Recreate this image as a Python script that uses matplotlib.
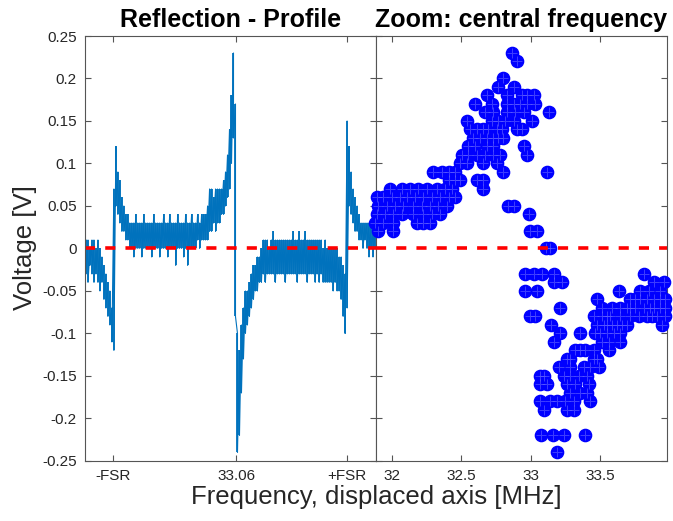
import numpy as np
import matplotlib
matplotlib.use("Agg")
import matplotlib.pyplot as plt

plt.rcParams['font.family'] = ['Liberation Sans', 'DejaVu Sans']

# reflection profile, band of the noisy trace per sample column (V)
trace_hi = [0.01, 0.01, 0.00, 0.01, 0.01, 0.00, 0.01, 0.00, -0.01, -0.02,
            -0.03, -0.04, -0.05, -0.07, 0.07, 0.12, 0.09, 0.08, 0.06, 0.05,
            0.04, 0.04, 0.03,
            0.03, 0.03, 0.04, 0.03, 0.03, 0.03, 0.04, 0.03, 0.03, 0.03,
            0.03, 0.04, 0.03, 0.03, 0.03, 0.03, 0.04, 0.03, 0.03, 0.04,
            0.03, 0.03, 0.03, 0.04, 0.03, 0.03, 0.03, 0.04, 0.03, 0.03,
            0.04, 0.03, 0.03, 0.04, 0.03, 0.04, 0.04, 0.04,
            0.05, 0.07, 0.07, 0.06, 0.07, 0.07, 0.07, 0.07, 0.08, 0.09,
            0.11, 0.14, 0.18, 0.23, 0.17, -0.10, -0.12, -0.09, -0.07, -0.05,
            -0.05, -0.04, -0.03, -0.02, -0.02, -0.01, -0.01,
            0.00, 0.01, 0.01, 0.01, 0.00, 0.01, 0.02, 0.01, 0.01, 0.01,
            0.01, 0.01, 0.01, 0.01, 0.01, 0.01, 0.02, 0.01, 0.01, 0.02,
            0.01, 0.01, 0.02, 0.01, 0.01, 0.01, 0.01, 0.01, 0.01, 0.01,
            0.01, 0.00, 0.01, 0.00, 0.00,
            0.00, 0.00, 0.00, 0.00, -0.01, -0.01, -0.02, -0.03, 0.15, 0.12,
            0.09, 0.07, 0.06, 0.05, 0.04, 0.03, 0.03, 0.03, 0.03, 0.03,
            0.03, 0.02, 0.03]
trace_lo = [-0.03, -0.04, -0.02, -0.03, -0.04, -0.03, -0.04, -0.05, -0.04, -0.06,
            -0.07, -0.08, -0.09, -0.11, -0.12, 0.05, 0.04, 0.03, 0.02, 0.02,
            0.01, 0.01, 0.00,
            0.00, -0.01, 0.00, 0.00, 0.00, -0.01, 0.00, 0.00, 0.00, 0.00,
            -0.01, 0.00, 0.00, 0.00, -0.01, 0.00, 0.00, 0.00, -0.01, 0.00,
            0.00, 0.00, -0.02, 0.00, 0.00, 0.00, -0.01, 0.00, -0.02, 0.00,
            0.00, 0.00, 0.00, 0.01, 0.00, 0.01, 0.01, 0.01,
            0.01, 0.02, 0.02, 0.03, 0.02, 0.03, 0.03, 0.04, 0.04, 0.05,
            0.06, 0.07, 0.10, 0.13, -0.08, -0.24, -0.22, -0.17, -0.13, -0.10,
            -0.09, -0.08, -0.07, -0.06, -0.05, -0.05, -0.04,
            -0.04, -0.03, -0.04, -0.03, -0.03, -0.03, -0.03, -0.04, -0.03, -0.03,
            -0.03, -0.03, -0.04, -0.03, -0.03, -0.03, -0.03, -0.03, -0.04, -0.03,
            -0.03, -0.03, -0.03, -0.04, -0.03, -0.03, -0.03, -0.04, -0.03, -0.04,
            -0.03, -0.04, -0.04, -0.04, -0.04,
            -0.04, -0.05, -0.04, -0.05, -0.05, -0.06, -0.08, -0.10, -0.07, 0.05,
            0.04, 0.03, 0.02, 0.02, 0.01, 0.01, 0.00, 0.01, 0.00, -0.01,
            0.00, -0.01, 0.00]

# sample columns of the three resonances
profile_ticks = [13.65, 75.35, 130.85]
profile_labels = ['-FSR', '33.06', '+FSR']

# zoom around the central resonance: frequency (MHz), voltage (V)
zoom_freq = [32.863,
             32.899,
             32.803,
             32.767, 32.875,
             32.683, 32.827, 32.935, 32.971, 33.019,
             32.599, 32.719, 32.827, 32.875, 32.923, 32.971, 33.031,
             32.671, 32.731, 32.827, 32.887, 32.947, 33.127,
             32.539, 32.719, 32.767, 32.815, 32.875, 33.007,
             32.563, 32.611, 32.659, 32.695, 32.755, 32.791, 32.899, 32.935,
             32.587, 32.635, 32.683, 32.731, 32.767, 32.803,
             32.551, 32.599, 32.683, 32.731, 32.947,
             32.503, 32.551, 32.611, 32.671, 32.731, 32.779, 32.971,
             32.491, 32.539, 32.659, 32.755,
             32.300, 32.360, 32.408, 32.456, 32.803, 33.115,
             32.408, 32.456, 32.491, 32.611, 32.659,
             31.988, 32.072, 32.132, 32.192, 32.252, 32.324, 32.384, 32.432, 32.659,
             31.892, 31.940, 32.000, 32.060, 32.108, 32.168, 32.228, 32.288, 32.348,
             32.408, 32.456,
             31.904, 31.964, 32.024, 32.084, 32.156, 32.216, 32.276, 32.336, 32.396,
             32.839, 32.875,
             31.892, 31.952, 32.012, 32.072, 32.156, 32.228, 32.288, 32.348, 32.983,
             31.880, 31.940, 32.012, 32.180, 32.228, 32.276,
             31.904, 32.012, 32.995, 33.043,
             33.109, 33.139,
             32.959, 33.019, 33.079, 33.163, 33.810,
             33.163, 33.223, 33.882, 33.954,
             32.959, 33.043, 33.630, 33.786, 33.846, 33.930,
             33.475, 33.714, 33.750, 33.786, 33.834, 33.882, 33.930, 33.966,
             33.211, 33.510, 33.580, 33.640, 33.690, 33.714, 33.750, 33.810, 33.858,
             33.882, 33.930, 33.966,
             32.995, 33.031, 33.451, 33.510, 33.547, 33.570, 33.640, 33.714, 33.774,
             33.834, 33.870, 33.906, 33.966,
             33.144, 33.475, 33.523, 33.550, 33.580, 33.620, 33.654, 33.690, 33.943,
             33.206, 33.350, 33.463, 33.500, 33.547, 33.600, 33.643,
             33.163, 33.510, 33.558, 33.642,
             33.319, 33.355, 33.390, 33.451, 33.559,
             33.259, 33.280, 33.451, 33.475,
             33.199, 33.283, 33.379, 33.427, 33.487,
             33.067, 33.091, 33.235, 33.283, 33.343, 33.403,
             33.067, 33.115, 33.259, 33.319, 33.415,
             33.283, 33.355, 33.403,
             33.067, 33.139, 33.187, 33.247, 33.307, 33.427,
             33.091, 33.259, 33.307,
             33.074, 33.156, 33.235, 33.386,
             33.187]
zoom_volt = [0.23,
             0.22,
             0.20,
             0.19, 0.19,
             0.18, 0.18, 0.18, 0.18, 0.18,
             0.17, 0.17, 0.17, 0.17, 0.17, 0.17, 0.17,
             0.16, 0.16, 0.16, 0.16, 0.16, 0.16,
             0.15, 0.15, 0.15, 0.15, 0.15, 0.15,
             0.14, 0.14, 0.14, 0.14, 0.14, 0.14, 0.14, 0.14,
             0.13, 0.13, 0.13, 0.13, 0.13, 0.13,
             0.12, 0.12, 0.12, 0.12, 0.12,
             0.11, 0.11, 0.11, 0.11, 0.11, 0.11, 0.11,
             0.10, 0.10, 0.10, 0.10,
             0.09, 0.09, 0.09, 0.09, 0.09, 0.09,
             0.08, 0.08, 0.08, 0.08, 0.08,
             0.07, 0.07, 0.07, 0.07, 0.07, 0.07, 0.07, 0.07, 0.07,
             0.06, 0.06, 0.06, 0.06, 0.06, 0.06, 0.06, 0.06, 0.06,
             0.06, 0.06,
             0.05, 0.05, 0.05, 0.05, 0.05, 0.05, 0.05, 0.05, 0.05,
             0.05, 0.05,
             0.04, 0.04, 0.04, 0.04, 0.04, 0.04, 0.04, 0.04, 0.04,
             0.03, 0.03, 0.03, 0.03, 0.03, 0.03,
             0.02, 0.02, 0.02, 0.02,
             0.00, 0.00,
             -0.03, -0.03, -0.03, -0.03, -0.03,
             -0.04, -0.04, -0.04, -0.04,
             -0.05, -0.05, -0.05, -0.05, -0.05, -0.05,
             -0.06, -0.06, -0.06, -0.06, -0.06, -0.06, -0.06, -0.06,
             -0.07, -0.07, -0.07, -0.07, -0.07, -0.07, -0.07, -0.07, -0.07,
             -0.07, -0.07, -0.07,
             -0.08, -0.08, -0.08, -0.08, -0.08, -0.08, -0.08, -0.08, -0.08,
             -0.08, -0.08, -0.08, -0.08,
             -0.09, -0.09, -0.09, -0.09, -0.09, -0.09, -0.09, -0.09, -0.09,
             -0.10, -0.10, -0.10, -0.10, -0.10, -0.10, -0.10,
             -0.11, -0.11, -0.11, -0.11,
             -0.12, -0.12, -0.12, -0.12, -0.12,
             -0.13, -0.13, -0.13, -0.13,
             -0.14, -0.14, -0.14, -0.14, -0.14,
             -0.15, -0.15, -0.15, -0.15, -0.15, -0.15,
             -0.16, -0.16, -0.16, -0.16, -0.16,
             -0.17, -0.17, -0.17,
             -0.18, -0.18, -0.18, -0.18, -0.18, -0.18,
             -0.19, -0.19, -0.19,
             -0.22, -0.22, -0.22, -0.22,
             -0.24]
zoom_ticks = [32, 32.5, 33, 33.5]

axis_col = '#555555'
text_col = '#262626'
trace_col = '#0072BD'

fig = plt.figure(figsize=(6.73, 5.21), dpi=100)
ax1 = fig.add_axes([0.1263, 0.1152, 0.4324, 0.8157])
ax2 = fig.add_axes([0.5587, 0.1152, 0.4324, 0.8157])

# left: full profile, one vertical stroke per sample column plus a zigzag
idx = np.arange(len(trace_hi))
ax1.vlines(idx, trace_lo, trace_hi, color=trace_col, lw=1.3)
xs = np.repeat(idx, 2)
ys = np.column_stack([trace_hi, trace_lo]).ravel()
ax1.plot(xs, ys, color=trace_col, lw=0.8)
ax1.axhline(0, color='red', lw=2.6, dashes=(2.8, 2.8))
ax1.set_xlim(-0.5, len(trace_hi) - 0.5)
ax1.set_xticks(profile_ticks)
ax1.set_xticklabels(profile_labels)
ax1.set_title('Reflection - Profile', fontsize=18, fontweight='bold', pad=6.5)

# right: zoomed scatter
ax2.plot(zoom_freq, zoom_volt, 'o', ms=8.8, mfc='#0000FF', mec='#0000FF',
         clip_on=False, zorder=3)
ax2.plot(zoom_freq, zoom_volt, '+', ms=7, mew=0.7, color='#6666ff',
         alpha=0.6, clip_on=False, zorder=4)
ax2.axhline(0, color='red', lw=2.6, dashes=(2.8, 2.8), zorder=5)
ax2.set_xlim(31.887, 33.978)
ax2.set_xticks(zoom_ticks)
ax2.set_xticklabels(['32', '32.5', '33', '33.5'])
ax2.set_title('Zoom: central frequency', fontsize=18, fontweight='bold', pad=6.5)

for ax in (ax1, ax2):
    ax.set_ylim(-0.25, 0.25)
    ax.set_yticks(np.arange(-0.25, 0.26, 0.05))
    ax.tick_params(direction='in', top=True, right=True, length=4,
                   width=0.8, colors=axis_col, labelcolor=text_col,
                   labelsize=11, pad=6)
    for s in ax.spines.values():
        s.set_color(axis_col)
        s.set_linewidth(0.8)

ax1.set_yticklabels(['-0.25', '-0.2', '-0.15', '-0.1', '-0.05', '0',
                     '0.05', '0.1', '0.15', '0.2', '0.25'])
ax2.set_yticklabels([])

fig.text(0.037, 0.524, 'Voltage [V]', rotation=90, fontsize=18.5,
         ha='center', va='center', color=text_col)
fig.text(0.559, 0.046, 'Frequency, displaced axis [MHz]', fontsize=18.5,
         ha='center', va='center', color=text_col)

fig.savefig('out.png', dpi=100)
